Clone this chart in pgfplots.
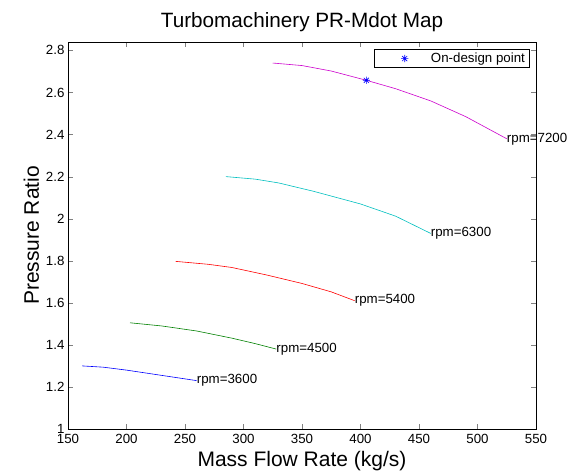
\documentclass[border=0pt]{standalone}
\usepackage{fontspec}
\setmainfont{Liberation Sans}
\usepackage{pgfplots}
\pgfplotsset{compat=1.18}

\definecolor{mlgreen}{rgb}{0,0.5,0}
\definecolor{mlcyan}{rgb}{0,0.75,0.75}
\definecolor{mlmagenta}{rgb}{0.8,0,0.8}

% MATLAB-style '*' marker: a plus and a cross
\pgfdeclareplotmark{mstar}{%
  \pgfpathmoveto{\pgfqpoint{-\pgfplotmarksize}{0pt}}%
  \pgfpathlineto{\pgfqpoint{\pgfplotmarksize}{0pt}}%
  \pgfpathmoveto{\pgfqpoint{0pt}{-\pgfplotmarksize}}%
  \pgfpathlineto{\pgfqpoint{0pt}{\pgfplotmarksize}}%
  \pgfpathmoveto{\pgfqpoint{-0.7\pgfplotmarksize}{-0.7\pgfplotmarksize}}%
  \pgfpathlineto{\pgfqpoint{0.7\pgfplotmarksize}{0.7\pgfplotmarksize}}%
  \pgfpathmoveto{\pgfqpoint{-0.7\pgfplotmarksize}{0.7\pgfplotmarksize}}%
  \pgfpathlineto{\pgfqpoint{0.7\pgfplotmarksize}{-0.7\pgfplotmarksize}}%
  \pgfusepathqstroke}

\begin{document}
\begin{tikzpicture}
\path[use as bounding box] (-68pt,-46pt) rectangle (514pt,429pt);
\begin{axis}[
	scale only axis,
	width=468pt, height=387pt,
	xmin=150, xmax=550, ymin=1, ymax=2.84,
	xtick={150,200,...,550},
	ytick={1,1.2,1.4,1.6,1.8,2,2.2,2.4,2.6,2.8},
	tick align=inside, tick pos=both,
	major tick length=5pt,
	/pgf/number format/assume math mode=true,
	ticklabel style={font=\fontsize{13.3}{15}\selectfont},
	xticklabel style={yshift=-2pt},
	title={Turbomachinery PR-Mdot Map},
	title style={font=\fontsize{20.7}{23}\selectfont, yshift=1pt},
	xlabel={Mass Flow Rate (kg/s)},
	ylabel={Pressure Ratio},
	label style={font=\fontsize{21}{23}\selectfont},
	clip=false,
	legend style={at={(1,1)}, xshift=-6.7pt, yshift=-7.3pt, anchor=north east,
		draw=black, font=\fontsize{13.3}{15}\selectfont, inner xsep=2.2pt, inner ysep=1.5pt},
	legend image code/.code={\path (0pt,0pt) (52.4pt,0pt); \draw[#1] plot coordinates {(28.4pt,0pt)};},
	every axis plot/.append style={line width=0.6pt},
]
\addplot[only marks, mark=mstar, blue, mark size=3.6pt]
	coordinates {(405,2.658)};
\addlegendentry{On-design point}

\addplot[mlmagenta, no marks, forget plot] coordinates {
	(325,2.740) (350,2.728) (375,2.702) (405,2.658) (430,2.618) (460,2.560) (490,2.485) (525,2.380)};
\addplot[mlcyan, no marks, forget plot] coordinates {
	(285,2.200) (310,2.188) (330,2.170) (360,2.130) (400,2.070) (430,2.012) (460,1.930)};
\addplot[red, no marks, forget plot] coordinates {
	(242,1.797) (270,1.783) (290,1.768) (320,1.732) (350,1.692) (375,1.652) (395,1.610)};
\addplot[mlgreen, no marks, forget plot] coordinates {
	(203,1.505) (230,1.490) (260,1.466) (290,1.432) (310,1.406) (328,1.380)};
\addplot[blue, no marks, forget plot] coordinates {
	(162,1.300) (180,1.294) (200,1.280) (230,1.255) (260,1.230)};

\node[anchor=west, inner sep=0pt, font=\fontsize{13.3}{15}\selectfont] at (axis cs:525,2.380) {rpm=7200};
\node[anchor=west, inner sep=0pt, font=\fontsize{13.3}{15}\selectfont] at (axis cs:460,1.930) {rpm=6300};
\node[anchor=west, inner sep=0pt, font=\fontsize{13.3}{15}\selectfont] at (axis cs:395,1.610) {rpm=5400};
\node[anchor=west, inner sep=0pt, font=\fontsize{13.3}{15}\selectfont] at (axis cs:328,1.380) {rpm=4500};
\node[anchor=west, inner sep=0pt, font=\fontsize{13.3}{15}\selectfont] at (axis cs:260,1.230) {rpm=3600};
\end{axis}
\end{tikzpicture}
\end{document}
